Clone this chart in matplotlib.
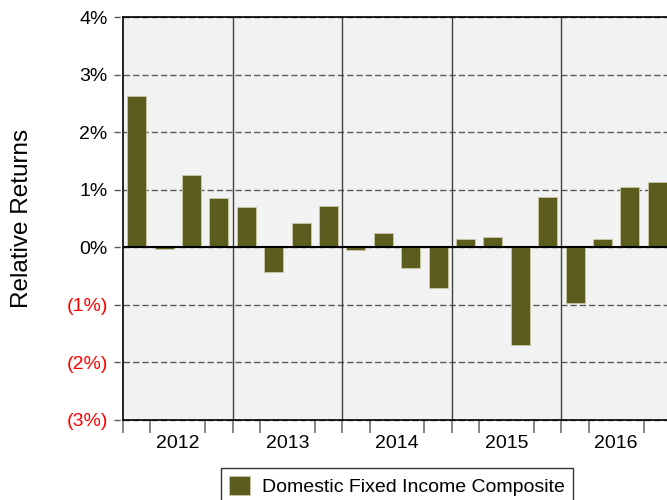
import matplotlib
matplotlib.use("Agg")
import matplotlib.pyplot as plt
import matplotlib.transforms as mtransforms
import numpy as np

plt.rcParams['font.family'] = ['Liberation Sans', 'DejaVu Sans']

# quarterly relative returns (%), 2012 Q1 .. 2016 Q4
years = ['2012', '2013', '2014', '2015', '2016']
returns = [2.63, -0.03, 1.25, 0.86,
           0.70, -0.43, 0.43, 0.71,
           -0.04, 0.24, -0.36, -0.71,
           0.15, 0.17, -1.70, 0.88,
           -0.97, 0.15, 1.05, 1.13]
yticks = [-3, -2, -1, 0, 1, 2, 3, 4]
series_name = 'Domestic Fixed Income Composite'

bar_color = '#5c5c1f'

fig = plt.figure(figsize=(6.67, 5), dpi=100)
ax = fig.add_axes([0.1844, 0.16, 0.8216, 0.806])
ax.set_facecolor('#f2f2f2')

x = np.arange(len(returns))
ax.bar(x, returns, width=0.69, color=bar_color, edgecolor='#c9c9a8',
       linewidth=0.6, zorder=3, label=series_name)

ax.set_xlim(-0.5, len(returns) - 0.5)
ax.set_ylim(yticks[0], yticks[-1])

# dashed gridlines that also poke out left of the axis as tick marks
trans = mtransforms.blended_transform_factory(ax.transAxes, ax.transData)
for yv in yticks:
    ax.plot([-0.0165, 1], [yv, yv], transform=trans, color='#5a5a5a',
            lw=1.0, dashes=(4.5, 2.2), clip_on=False, zorder=1)
ax.axhline(0, color='black', lw=1.5, zorder=4)

# year separators
for b in range(4, len(returns), 4):
    ax.axvline(b - 0.5, color='#404040', lw=1.0, zorder=2)

# y tick labels, negatives in red with parentheses
ax.set_yticks(yticks)
labels = []
for v in yticks:
    labels.append(f'({abs(v)}%)' if v < 0 else f'{v}%')
ax.set_yticklabels(labels, fontsize=14)
for lbl, v in zip(ax.get_yticklabels(), yticks):
    lbl.set_color('red' if v < 0 else 'black')
ax.tick_params(axis='y', length=0, pad=11)

# quarter ticks below axis, year names centred per year
ax.set_xticks(np.arange(-0.5, len(returns), 1), minor=True)
ax.set_xticks(np.arange(1.5, len(returns), 4))
ax.set_xticklabels(years, fontsize=14)
ax.tick_params(axis='x', which='major', length=0, pad=11)
ax.tick_params(axis='x', which='minor', length=9, width=1.2, color='#707070',
               direction='out')

ax.set_ylabel('Relative Returns', fontsize=17.5, labelpad=24)

for s in ['left', 'top', 'bottom']:
    ax.spines[s].set_color('black')
    ax.spines[s].set_linewidth(1.2)
ax.spines['right'].set_visible(False)

leg = ax.legend(loc='upper center', bbox_to_anchor=(0.5, -0.096),
                fontsize=14, frameon=True, fancybox=False,
                handlelength=1.1, handleheight=1.1, borderpad=0.4,
                borderaxespad=0.5, handletextpad=0.6)
leg.get_frame().set_edgecolor('black')
leg.get_frame().set_linewidth(1.0)

fig.savefig('out.png', dpi=100)
